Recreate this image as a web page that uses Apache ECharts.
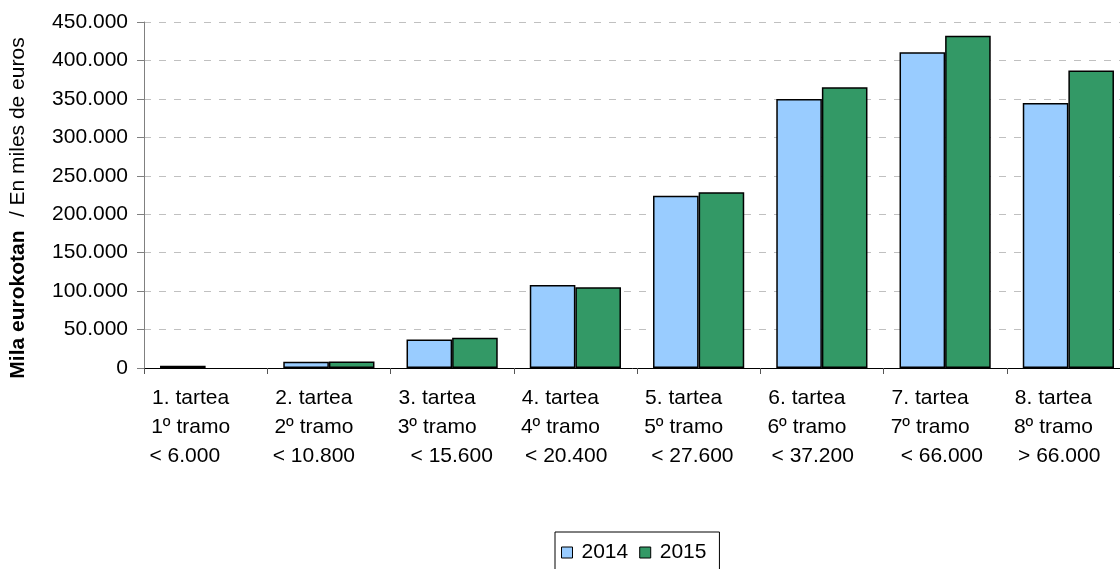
<!DOCTYPE html>
<html>
<head>
<meta charset="utf-8">
<script src="https://cdn.jsdelivr.net/npm/echarts@6/dist/echarts.min.js"></script>
<style>html,body{margin:0;padding:0;background:#fff;}#c{width:1120px;height:569px;}</style>
</head>
<body>
<div id="c"></div>
<script>
var categories = [
  "1. tartea\n1º tramo\n< 6.000  ",
  "2. tartea\n2º tramo\n< 10.800",
  "3. tartea\n3º tramo\n     < 15.600",
  "4. tartea\n4º tramo\n  < 20.400",
  "5. tartea\n5º tramo\n   < 27.600",
  "6. tartea\n6º tramo\n  < 37.200",
  "7. tartea\n7º tramo\n    < 66.000",
  "8. tartea\n8º tramo\n  > 66.000"
];
var seriesNames = ["2014", "2015"];
var values2014 = [3000, 8000, 37200, 108000, 224000, 350000, 410500, 344700];
var values2015 = [null, 8300, 39500, 105000, 228500, 365000, 432000, 387000];
var yMin = 0, yMax = 450000, yInterval = 50000;

function fmt(v) { return String(v).replace(/\B(?=(\d{3})+(?!\d))/g, '.'); }

var FONT = 'Liberation Sans';
var chart = echarts.init(document.getElementById('c'), null, {renderer: 'canvas'});
chart.setOption({
  animation: false,
  backgroundColor: '#ffffff',
  textStyle: {fontFamily: FONT, color: '#000'},
  grid: {left: 144, top: 22, right: -10, height: 346, containLabel: false, outerBoundsMode: 'none'},
  legend: {
    left: 555, top: 532,
    data: seriesNames,
    icon: 'rect', itemWidth: 11, itemHeight: 11, itemGap: 11,
    borderColor: '#000', borderWidth: 1, padding: [10, 13, 10, 6],
    textStyle: {fontFamily: FONT, fontSize: 21, color: '#000', padding: [0, 0, 0, 4]},
    itemStyle: {borderColor: '#000', borderWidth: 1}
  },
  xAxis: {
    type: 'category', data: categories,
    axisLine: {lineStyle: {color: '#000', width: 1}},
    axisTick: {show: true, length: 6, lineStyle: {color: '#555'}},
    axisLabel: {interval: 0, fontFamily: FONT, fontSize: 21, color: '#000', lineHeight: 29, margin: 16, padding: [0, 30, 0, 0]}
  },
  yAxis: {
    type: 'value', min: yMin, max: yMax, interval: yInterval,
    name: '{b|Mila eurokotan}    {n|/ En miles de euros}',
    nameLocation: 'middle', nameGap: 115,
    nameTextStyle: {
      padding: [0, 26, 0, 0],
      rich: {
        b: {fontFamily: FONT, fontSize: 21, fontWeight: 'bold', color: '#000'},
        n: {fontFamily: FONT, fontSize: 21, color: '#000'}
      }
    },
    axisLine: {show: true, lineStyle: {color: '#808080', width: 1}},
    axisTick: {show: true, length: 7, lineStyle: {color: '#808080'}},
    axisLabel: {fontFamily: FONT, fontSize: 21, color: '#000', margin: 16, formatter: fmt},
    splitLine: {show: true, lineStyle: {color: '#c0c0c0', width: 1, type: [7, 8]}}
  },
  series: [
    {name: seriesNames[0], type: 'bar', data: values2014, barGap: '0%', barCategoryGap: '26%',
     itemStyle: {color: '#99ccff', borderColor: '#000', borderWidth: 1.5}},
    {name: seriesNames[1], type: 'bar', data: values2015, barGap: '0%', barCategoryGap: '26%',
     itemStyle: {color: '#339966', borderColor: '#000', borderWidth: 1.5}}
  ]
});
</script>
</body>
</html>
